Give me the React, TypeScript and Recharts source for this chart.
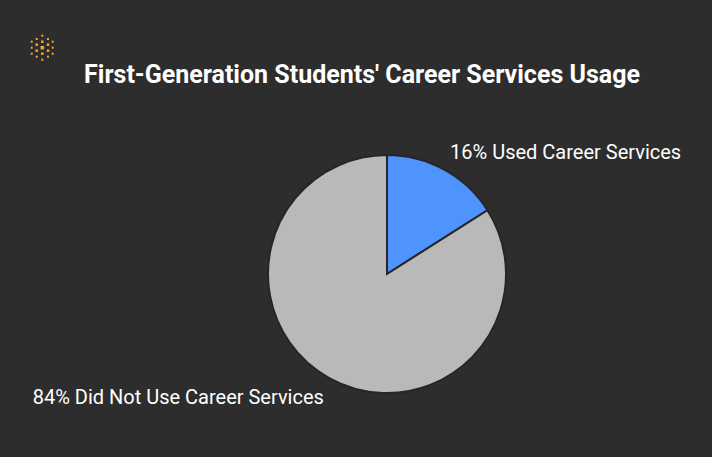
import React from "react";
import { PieChart, Pie, Cell } from "recharts";

const categories = ["Used Career Services", "Did Not Use Career Services"];
const values = [16, 84];
const colors = ["#4f94fd", "#b9b9b9"];
const title = "First-Generation Students' Career Services Usage";

const data = categories.map((name, i) => ({ name, value: values[i] }));

const logoDots: [number, number, number][] = [
  [42.3, 35.7, 2], [36.7, 39, 2], [42.3, 41.7, 2.5], [48, 39, 2],
  [31.7, 41.7, 2], [52.7, 41.7, 2], [36.7, 44.7, 2.5], [42.3, 47.7, 3.5],
  [48, 44.7, 2.5], [31.7, 47.7, 2], [52.7, 47.7, 2], [36.7, 50.7, 2.5],
  [48, 50.7, 2.5], [42.3, 53.7, 2.5], [31.7, 53.7, 2], [52.7, 53.7, 2],
  [36.7, 56.7, 2], [48, 56.7, 2], [42.3, 59.7, 2],
];

const RAD = Math.PI / 180;

const renderLabel = (props: any) => {
  const { cx, cy, midAngle, outerRadius, value, name } = props;
  const r = outerRadius + 12;
  const x = cx + r * Math.cos(-midAngle * RAD);
  const yBase = cy + r * Math.sin(-midAngle * RAD);
  const y = yBase + (yBase > cy ? 8 : -7);
  const anchor = x > cx ? "start" : "end";
  return (
    <text
      x={x}
      y={y}
      fill="#ffffff"
      textAnchor={anchor}
      dominantBaseline="central"
      fontFamily="Roboto, sans-serif"
      fontSize={20}
    >
      {`${value}% ${name}`}
    </text>
  );
};

export default function App() {
  return (
    <div
      style={{
        position: "absolute",
        top: 0,
        left: 0,
        width: 712,
        height: 457,
        background: "#2d2d2d",
        overflow: "hidden",
      }}
    >
      <svg
        width={712}
        height={457}
        style={{ position: "absolute", top: 0, left: 0 }}
      >
        {logoDots.map(([x, y, s], i) => (
          <rect key={i} x={x - s / 2} y={y - s / 2} width={s} height={s} fill="#f5a623" />
        ))}
        <text
          x={362}
          y={74}
          fill="#ffffff"
          textAnchor="middle"
          dominantBaseline="central"
          fontFamily="Roboto, sans-serif"
          fontWeight="bold"
          fontSize={25}
        >
          {title}
        </text>
      </svg>
      <div style={{ position: "absolute", top: 0, left: 0 }}>
        <PieChart width={712} height={457} margin={{ top: 0, right: 0, bottom: 0, left: 0 }}>
          <Pie
            data={data}
            dataKey="value"
            nameKey="name"
            cx={387}
            cy={274}
            outerRadius={119}
            startAngle={90}
            endAngle={-270}
            stroke="#262626"
            strokeWidth={2}
            label={renderLabel}
            labelLine={false}
            isAnimationActive={false}
          >
            {data.map((d, i) => (
              <Cell key={d.name} fill={colors[i]} />
            ))}
          </Pie>
        </PieChart>
      </div>
    </div>
  );
}
